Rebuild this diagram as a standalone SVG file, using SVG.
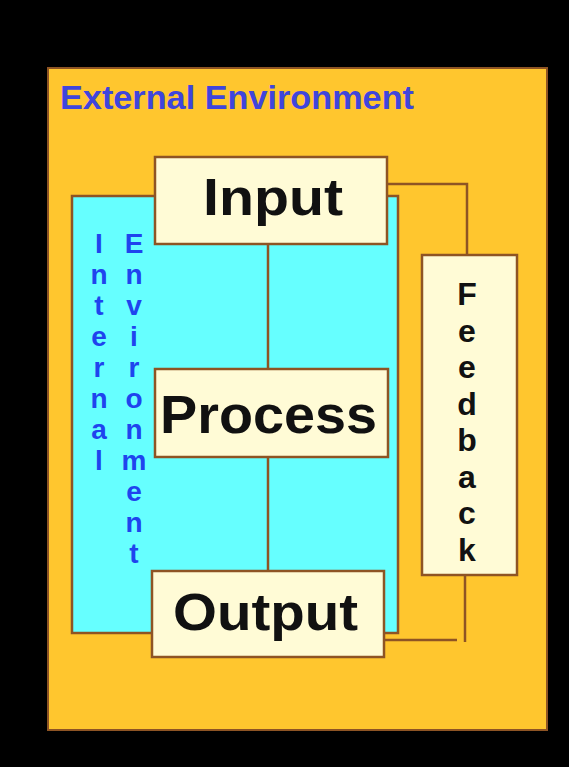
<svg xmlns="http://www.w3.org/2000/svg" width="569" height="767" viewBox="0 0 569 767">
  <style>
    .box { fill: #fffbd6; stroke: #8e5424; stroke-width: 2.5; }
    .wire { fill: none; stroke: #8e5424; stroke-width: 2.5; }
    .big { font-family: "Liberation Sans", Arial, sans-serif; font-weight: bold; fill: #111; text-anchor: middle; }
    .blue { font-family: "Liberation Sans", Arial, sans-serif; font-weight: bold; fill: #1f44ee; text-anchor: middle; font-size: 28px; }
    .fb { font-family: "Liberation Sans", Arial, sans-serif; font-weight: bold; fill: #111; text-anchor: middle; font-size: 32px; }
  </style>

  <!-- background -->
  <rect x="0" y="0" width="569" height="767" fill="#000"/>

  <!-- outer system boundary -->
  <g id="external">
    <rect x="48" y="68" width="499" height="662" fill="#ffc62e" stroke="#8e5424" stroke-width="2"/>
    <text x="60" y="109" font-family="Liberation Sans, Arial, sans-serif" font-weight="bold" font-size="33" fill="#3f45dc" textLength="354" lengthAdjust="spacingAndGlyphs">External Environment</text>
  </g>

  <!-- inner environment, label stacked one letter per line -->
  <g id="internal">
    <rect x="72" y="196" width="326" height="437" fill="#66ffff" stroke="#8e5424" stroke-width="2.5"/>
    <text class="blue" y="253"><tspan x="99">I</tspan><tspan x="99" dy="31">n</tspan><tspan x="99" dy="31">t</tspan><tspan x="99" dy="31">e</tspan><tspan x="99" dy="31">r</tspan><tspan x="99" dy="31">n</tspan><tspan x="99" dy="31">a</tspan><tspan x="99" dy="31">l</tspan></text>
    <text class="blue" y="253"><tspan x="134">E</tspan><tspan x="134" dy="31">n</tspan><tspan x="134" dy="31">v</tspan><tspan x="134" dy="31">i</tspan><tspan x="134" dy="31">r</tspan><tspan x="134" dy="31">o</tspan><tspan x="134" dy="31">n</tspan><tspan x="134" dy="31">m</tspan><tspan x="134" dy="31">e</tspan><tspan x="134" dy="31">n</tspan><tspan x="134" dy="31">t</tspan></text>
  </g>

  <!-- connectors -->
  <g id="connectors">
    <line class="wire" x1="268" y1="244" x2="268" y2="369"/>
    <line class="wire" x1="268" y1="457" x2="268" y2="571"/>
    <polyline class="wire" points="387,184 467,184 467,255"/>
    <polyline class="wire" points="465,576 465,642"/>
    <polyline class="wire" points="384,640 457,640"/>
  </g>

  <g id="input">
    <rect class="box" x="155" y="157" width="232" height="87"/>
    <text class="big" x="273" y="215" font-size="52" textLength="140" lengthAdjust="spacingAndGlyphs">Input</text>
  </g>

  <g id="process">
    <rect class="box" x="155" y="369" width="233" height="88"/>
    <text class="big" x="268.5" y="433" font-size="53" textLength="217" lengthAdjust="spacingAndGlyphs">Process</text>
  </g>

  <g id="output">
    <rect class="box" x="152" y="571" width="232" height="86"/>
    <text class="big" x="265.5" y="630" font-size="52" textLength="185" lengthAdjust="spacingAndGlyphs">Output</text>
  </g>

  <g id="feedback">
    <rect class="box" x="422" y="255" width="95" height="320"/>
    <text class="fb" y="305"><tspan x="467">F</tspan><tspan x="467" dy="36.5">e</tspan><tspan x="467" dy="36.5">e</tspan><tspan x="467" dy="36.5">d</tspan><tspan x="467" dy="36.5">b</tspan><tspan x="467" dy="36.5">a</tspan><tspan x="467" dy="36.5">c</tspan><tspan x="467" dy="36.5">k</tspan></text>
  </g>
</svg>
